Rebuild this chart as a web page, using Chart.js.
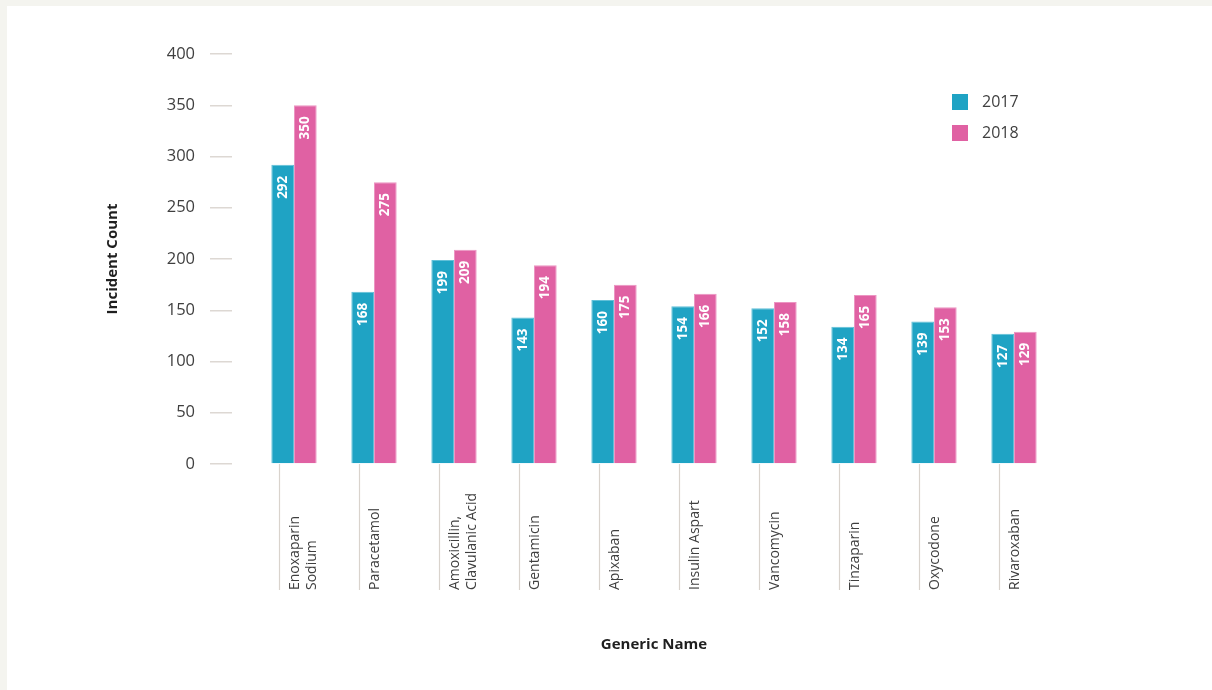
<!DOCTYPE html>
<html lang="en">
<head>
    <meta charset="UTF-8">
    <title>Incident Count by Generic Name</title>
    <script src="https://cdn.jsdelivr.net/npm/chart.js"></script>
    <style>
        html, body { margin: 0; padding: 0; background: #f4f4ef; }
        .panel { position: absolute; left: 7px; top: 6px; width: 1205px; height: 684px; background: #fff; }
    </style>
</head>
<body>
    <div class="panel">
        <canvas id="incidents" width="1205" height="684"></canvas>
    </div>

    <script>
        // drug names (multi-line where the label wraps)
        const drugNames = [
            ['Enoxaparin', 'Sodium'],
            'Paracetamol',
            ['Amoxicillin,', 'Clavulanic Acid'],
            'Gentamicin',
            'Apixaban',
            'Insulin Aspart',
            'Vancomycin',
            'Tinzaparin',
            'Oxycodone',
            'Rivaroxaban'
        ];
        const years = ['2017', '2018'];
        const counts2017 = [292, 168, 199, 143, 160, 154, 152, 134, 139, 127];
        const counts2018 = [350, 275, 209, 194, 175, 166, 158, 165, 153, 129];
        const yTicks = [0, 50, 100, 150, 200, 250, 300, 350, 400];

        const TEAL = '#1fa3c4';
        const PINK = '#e061a3';
        const FONT = '"Open Sans", "Noto Sans", sans-serif';

        // white value labels, rotated, tucked under the top of each bar
        const valueLabels = {
            id: 'valueLabels',
            afterDatasetsDraw(chart) {
                const ctx = chart.ctx;
                ctx.save();
                ctx.fillStyle = '#fff';
                ctx.font = 'bold 13.5px ' + FONT;
                ctx.textAlign = 'right';
                ctx.textBaseline = 'middle';
                chart.data.datasets.forEach((ds, di) => {
                    chart.getDatasetMeta(di).data.forEach((bar, i) => {
                        ctx.save();
                        ctx.translate(bar.x, bar.y + 11);
                        ctx.rotate(-Math.PI / 2);
                        ctx.fillText(String(ds.data[i]), 0, 0);
                        ctx.restore();
                    });
                });
                ctx.restore();
            }
        };

        // category ticks: thin line left of each group, label text sitting on a common bottom line
        const categoryLabels = {
            id: 'categoryLabels',
            afterDraw(chart) {
                const ctx = chart.ctx;
                const x = chart.scales.x;
                const top = chart.chartArea.bottom;
                const base = 584;
                const lineH = 17;
                ctx.save();
                ctx.strokeStyle = '#d9d3cd';
                ctx.lineWidth = 1.2;
                ctx.fillStyle = '#3f3f3f';
                ctx.font = '14px ' + FONT;
                ctx.textAlign = 'left';
                ctx.textBaseline = 'middle';
                drugNames.forEach((name, i) => {
                    const cx = x.getPixelForValue(i);
                    const lx = Math.round(cx - 15) + 0.5;
                    ctx.beginPath();
                    ctx.moveTo(lx, top);
                    ctx.lineTo(lx, base);
                    ctx.stroke();
                    const lines = Array.isArray(name) ? name : [name];
                    ctx.save();
                    ctx.translate(cx + 1, base);
                    ctx.rotate(-Math.PI / 2);
                    lines.forEach((t, k) => ctx.fillText(t, 0, k * lineH));
                    ctx.restore();
                });
                ctx.restore();
            }
        };

        // legend in the upper right of the plot
        const sideLegend = {
            id: 'sideLegend',
            afterDraw(chart) {
                const ctx = chart.ctx;
                ctx.save();
                ctx.font = '16px ' + FONT;
                ctx.textAlign = 'left';
                ctx.textBaseline = 'middle';
                chart.data.datasets.forEach((ds, i) => {
                    const y = 96 + i * 31;
                    ctx.fillStyle = ds.backgroundColor;
                    ctx.fillRect(945, y - 8, 16, 16);
                    ctx.fillStyle = '#3f3f3f';
                    ctx.fillText(ds.label, 975, y);
                });
                ctx.restore();
            }
        };

        new Chart(document.getElementById('incidents'), {
            type: 'bar',
            data: {
                labels: drugNames,
                datasets: [
                    {
                        label: years[0],
                        data: counts2017,
                        backgroundColor: TEAL,
                        borderColor: '#62c0d8',
                        borderWidth: 1
                    },
                    {
                        label: years[1],
                        data: counts2018,
                        backgroundColor: PINK,
                        borderColor: '#ec95c2',
                        borderWidth: 1
                    }
                ]
            },
            options: {
                responsive: false,
                animation: false,
                layout: { padding: { top: 48, right: 158, left: 0, bottom: 0 } },
                datasets: {
                    bar: { categoryPercentage: 0.567, barPercentage: 1 }
                },
                plugins: {
                    legend: { display: false },
                    tooltip: { enabled: false }
                },
                scales: {
                    x: {
                        offset: true,
                        grid: { display: false },
                        border: { display: false },
                        ticks: { display: false },
                        title: {
                            display: true,
                            text: 'Generic Name',
                            color: '#1f1f1f',
                            font: { family: FONT, size: 15, weight: 'bold' },
                            padding: { top: 0, bottom: 36 }
                        },
                        afterFit(scale) { scale.height = 226; }
                    },
                    y: {
                        min: 0,
                        max: 400,
                        afterBuildTicks(scale) {
                            scale.ticks = yTicks.map(v => ({ value: v }));
                        },
                        grid: {
                            drawOnChartArea: false,
                            drawTicks: true,
                            tickLength: 44,
                            tickBorderDash: [22, 22],
                            tickColor: '#ddd8d3',
                            lineWidth: 1.5
                        },
                        border: { display: false },
                        ticks: {
                            padding: 15,
                            color: '#3f3f3f',
                            font: { family: FONT, size: 16.5 }
                        },
                        title: {
                            display: true,
                            text: 'Incident Count',
                            color: '#1f1f1f',
                            font: { family: FONT, size: 15, weight: 'bold' },
                            padding: { top: 97, bottom: 0 }
                        },
                        afterFit(scale) { scale.width = 247; }
                    }
                }
            },
            plugins: [valueLabels, categoryLabels, sideLegend]
        });
    </script>
</body>
</html>
